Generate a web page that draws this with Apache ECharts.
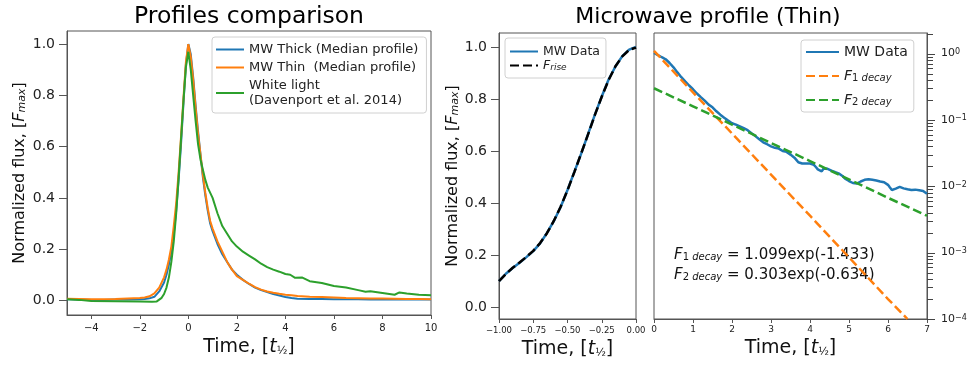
<!DOCTYPE html>
<html><head><meta charset="utf-8">
<script src="https://cdn.jsdelivr.net/npm/echarts@6/dist/echarts.min.js"></script>
<style>html,body{margin:0;padding:0;background:#fff}#c{width:970px;height:365px}</style>
</head><body><div id="c"></div>
<script>
// ---------- data ----------
const profTime = [-5,-4.5,-4,-3.5,-3,-2.5,-2,-1.8,-1.6,-1.4,-1.2,-1.0,-0.9,-0.8,-0.7,-0.6,-0.5,-0.4,-0.3,-0.2,-0.1,0,0.1,0.2,0.3,0.4,0.5,0.6,0.7,0.8,0.9,1.0,1.2,1.4,1.6,1.8,2.0,2.25,2.5,2.75,3.0,3.25,3.5,3.75,4.0,4.25,4.5,5,5.5,6,6.5,7,7.5,8,8.5,9,9.5,10];
const mwThick = [0.004,0.003,0.002,0.002,0.003,0.003,0.004,0.005,0.008,0.014,0.035,0.07,0.10,0.14,0.19,0.26,0.35,0.47,0.61,0.77,0.92,1.0,0.96,0.87,0.76,0.66,0.57,0.48,0.41,0.35,0.30,0.27,0.22,0.18,0.15,0.12,0.10,0.08,0.064,0.05,0.04,0.033,0.025,0.019,0.013,0.009,0.006,0.005,0.005,0.004,0.004,0.004,0.003,0.003,0.003,0.003,0.003,0.003];
const mwThin = [0.006,0.005,0.004,0.004,0.005,0.007,0.009,0.011,0.016,0.027,0.05,0.09,0.12,0.16,0.21,0.29,0.38,0.50,0.64,0.79,0.93,1.0,0.95,0.86,0.75,0.65,0.57,0.49,0.42,0.36,0.31,0.28,0.23,0.19,0.15,0.12,0.095,0.08,0.065,0.052,0.042,0.035,0.03,0.026,0.022,0.02,0.017,0.014,0.013,0.011,0.009,0.008,0.007,0.007,0.006,0.005,0.005,0.004];
const wlTime = [-5,-4.5,-4,-3,-2,-1.5,-1.3,-1.1,-1.0,-0.9,-0.8,-0.7,-0.6,-0.5,-0.4,-0.3,-0.2,-0.1,0,0.1,0.2,0.3,0.4,0.5,0.6,0.7,0.8,1.0,1.2,1.4,1.6,1.8,2.0,2.25,2.5,2.75,3.0,3.25,3.5,3.75,4.0,4.2,4.4,4.7,5.0,5.5,6.0,6.5,7.0,7.3,7.5,8.0,8.5,8.7,9.0,9.5,10];
const whiteLight = [0.004,0.002,-0.002,-0.003,-0.004,-0.005,-0.004,0.01,0.025,0.05,0.09,0.15,0.23,0.34,0.48,0.63,0.78,0.91,0.97,0.90,0.80,0.70,0.61,0.55,0.51,0.47,0.44,0.40,0.34,0.29,0.26,0.23,0.21,0.19,0.175,0.16,0.143,0.13,0.12,0.112,0.103,0.10,0.088,0.089,0.075,0.068,0.056,0.05,0.04,0.034,0.036,0.029,0.022,0.031,0.027,0.022,0.02];

const riseTime = [-1,-0.95,-0.9,-0.85,-0.8,-0.75,-0.7,-0.65,-0.6,-0.55,-0.5,-0.45,-0.4,-0.35,-0.3,-0.25,-0.2,-0.15,-0.1,-0.05,0];
const riseData = [0.10,0.128,0.15,0.17,0.192,0.215,0.245,0.285,0.33,0.385,0.45,0.52,0.59,0.665,0.74,0.81,0.875,0.925,0.965,0.99,1.0];
const riseFit  = [0.10,0.127,0.151,0.171,0.193,0.216,0.246,0.284,0.331,0.386,0.449,0.519,0.591,0.664,0.739,0.809,0.873,0.926,0.964,0.989,0.998];

const decayTime = [0,0.1,0.2,0.3,0.4,0.5,0.6,0.7,0.8,0.9,1.0,1.1,1.2,1.3,1.4,1.5,1.6,1.7,1.8,1.9,2.0,2.1,2.2,2.3,2.4,
  2.5,2.55,2.6,2.65,2.7,2.75,2.8,2.85,2.9,2.95,3.0,3.05,3.1,3.15,3.2,3.25,3.3,3.35,3.4,3.45,3.5,3.55,3.6,3.65,3.7,3.75,3.8,3.85,3.9,3.95,
  4.0,4.05,4.1,4.15,4.2,4.25,4.3,4.35,4.4,4.45,4.5,4.55,4.6,4.65,4.7,4.75,4.8,4.85,4.9,4.95,5.0,5.05,5.1,5.15,5.2,5.25,5.3,5.35,5.4,5.45,
  5.5,5.55,5.6,5.65,5.7,5.75,5.8,5.85,5.9,5.95,6.0,6.05,6.1,6.15,6.2,6.25,6.3,6.35,6.4,6.45,6.5,6.55,6.6,6.65,6.7,6.75,6.8,6.85,6.9,6.95,7.0];
const decayData = [1.02,0.95,0.88,0.82,0.72,0.62,0.52,0.44,0.38,0.33,0.29,0.25,0.22,0.195,0.17,0.155,0.135,0.12,0.108,0.098,0.089,0.085,0.08,0.075,0.07,
  0.063,0.061,0.057,0.055,0.051,0.049,0.046,0.045,0.043,0.041,0.040,0.041,0.038,0.039,0.037,0.036,0.034,0.035,0.033,0.032,0.030,0.029,0.027,0.025,0.023,0.0235,0.022,0.0225,0.022,0.0215,
  0.022,0.0212,0.021,0.0195,0.018,0.0172,0.0168,0.0185,0.019,0.0183,0.018,0.0172,0.0168,0.0163,0.016,0.0155,0.015,0.014,0.013,0.0125,0.012,0.0115,0.0112,0.011,0.011,0.0115,0.0118,0.0121,0.0125,0.0122,
  0.0128,0.0124,0.0125,0.0121,0.0122,0.0119,0.0118,0.0113,0.0115,0.011,0.0105,0.0096,0.0088,0.0085,0.0092,0.0096,0.0098,0.0095,0.0093,0.0091,0.009,0.0087,0.0088,0.0086,0.0089,0.0086,0.0087,0.0084,0.0085,0.0081,0.0077];
const f1Time = [0,1,2,3,4,5,6,6.5];
const f1Decay = [1.10,0.26,0.0625,0.015,0.0036,0.00085,0.0002,0.0001];
const f2Time = [0,1,2,3,4,5,6,7];
const f2Decay = [0.30,0.16,0.085,0.045,0.024,0.0127,0.0067,0.0036];

const leftXTicks = [-4,-2,0,2,4,6,8,10];
const fluxTicks = [0,0.2,0.4,0.6,0.8,1.0];
const riseXTicks = [-1,-0.75,-0.5,-0.25,0];
const decayXTicks = [0,1,2,3,4,5,6,7];
const logMajor = [1e-4,1e-3,1e-2,1e-1,1];
const logMinor = [2e-4,3e-4,4e-4,5e-4,6e-4,7e-4,8e-4,9e-4,2e-3,3e-3,4e-3,5e-3,6e-3,7e-3,8e-3,9e-3,2e-2,3e-2,4e-2,5e-2,6e-2,7e-2,8e-2,9e-2,0.2,0.3,0.4,0.5,0.6,0.7,0.8,0.9,2];
const logMin = 1e-4, logMax = 2.04;

const annot1 = ['1 ', 'decay', ' = 1.099exp(-1.433)'];
const annot2 = ['2 ', 'decay', ' = 0.303exp(-0.634)'];

// ---------- helpers ----------
const FF = 'DejaVu Sans';
const BLUE = '#1f77b4', ORANGE = '#ff7f0e', GREEN = '#2ca02c';
const SPINE = '#555';
const zip = (xs, ys) => xs.map((x, i) => [x, ys[i]]);
const minus = s => String(s).replace('-', '\u2212');

const timeName = '{a|Time, [}{t|t}{f|\u00bd}{a|]}';
const timeNameStyle = {fontFamily: FF, color: '#111', fontSize: 19,
  rich: {a: {fontFamily: FF, fontSize: 19, color: '#111'},
         t: {fontFamily: FF, fontSize: 19, fontStyle: 'italic', color: '#111'},
         f: {fontFamily: FF, fontSize: 11, color: '#111', verticalAlign: 'bottom'}}};
const fluxName = '{a|Normalized flux, [}{i|F}{s|max}{a|]}';
const fluxNameStyle = {fontFamily: FF, color: '#111', fontSize: 16,
  rich: {a: {fontFamily: FF, fontSize: 16, color: '#111'},
         i: {fontFamily: FF, fontSize: 16, fontStyle: 'italic', color: '#111'},
         s: {fontFamily: FF, fontSize: 11, fontStyle: 'italic', color: '#111', verticalAlign: 'bottom'}}};

function xAx(grid, min, max, ticks, fs, fmt, gap, margin) {
  return {gridIndex: grid, type: 'value', min: min, max: max,
    axisLine: {show: true, onZero: false, lineStyle: {color: SPINE, width: 1}},
    splitLine: {show: false},
    axisTick: {show: true, customValues: ticks, length: 4, lineStyle: {color: SPINE}},
    axisLabel: {customValues: ticks, fontFamily: FF, fontSize: fs, color: '#222', margin: margin, formatter: fmt},
    name: timeName, nameLocation: 'middle', nameGap: gap, nameTextStyle: timeNameStyle};
}
function yAx(grid, min, max, gap) {
  return {gridIndex: grid, type: 'value', min: min, max: max,
    axisLine: {show: true, onZero: false, lineStyle: {color: SPINE, width: 1}},
    splitLine: {show: false},
    axisTick: {show: true, customValues: fluxTicks, length: 8, lineStyle: {color: SPINE}},
    axisLabel: {customValues: fluxTicks, fontFamily: FF, fontSize: 14, color: '#222', margin: 12, formatter: v => v.toFixed(1)},
    name: fluxName, nameLocation: 'middle', nameGap: gap, nameTextStyle: fluxNameStyle};
}
function legendBox(extra) {
  return Object.assign({orient: 'vertical', align: 'left', backgroundColor: 'rgba(255,255,255,0.85)',
    borderColor: '#d0d0d0', borderWidth: 1, borderRadius: 3, selectedMode: false,
    itemStyle: {opacity: 0}}, extra);
}
function lineSeries(name, xi, yi, data, color, width, dashed) {
  return {name: name, type: 'line', xAxisIndex: xi, yAxisIndex: yi, data: data,
    symbol: 'none', showSymbol: false, animation: false,
    lineStyle: {color: color, width: width, type: dashed ? [9, 4] : 'solid'},
    itemStyle: {color: color}};
}

const decayRich = {i: {fontFamily: FF, fontSize: 14, fontStyle: 'italic', color: '#222'},
  s: {fontFamily: FF, fontSize: 10, color: '#222', verticalAlign: 'bottom'},
  si: {fontFamily: FF, fontSize: 10, fontStyle: 'italic', color: '#222', verticalAlign: 'bottom'}};

const annRich = {i: {fontFamily: FF, fontSize: 15, fontStyle: 'italic', fill: '#111', color: '#111'},
  s: {fontFamily: FF, fontSize: 10, fill: '#111', color: '#111', verticalAlign: 'bottom'},
  si: {fontFamily: FF, fontSize: 10, fontStyle: 'italic', fill: '#111', color: '#111', verticalAlign: 'bottom'},
  n: {fontFamily: FF, fontSize: 15, fill: '#111', color: '#111'}};

// tick marks of the right log axis, drawn by a custom series through the log scale
const tickData = logMajor.map(v => [7, v, 8]).concat(logMinor.map(v => [7, v, 6]));

const option = {
  backgroundColor: '#fff',
  animation: false,
  graphic: [
    {type: 'text', x: 249, y: 17, style: {text: 'Profiles comparison', font: '23.5px "DejaVu Sans"', fill: '#000', align: 'center', verticalAlign: 'middle', textAlign: 'center', textVerticalAlign: 'middle'}},
    {type: 'text', x: 708, y: 17, style: {text: 'Microwave profile (Thin)', font: '22px "DejaVu Sans"', fill: '#000', align: 'center', verticalAlign: 'middle', textAlign: 'center', textVerticalAlign: 'middle'}},
    {type: 'text', x: 674, y: 255, style: {text: '{i|F}{s|' + annot1[0] + '}{si|' + annot1[1] + '}{n|' + annot1[2] + '}', rich: annRich, verticalAlign: 'middle', textVerticalAlign: 'middle'}},
    {type: 'text', x: 674, y: 275, style: {text: '{i|F}{s|' + annot2[0] + '}{si|' + annot2[1] + '}{n|' + annot2[2] + '}', rich: annRich, verticalAlign: 'middle', textVerticalAlign: 'middle'}}
  ],
  grid: [
    {left: 67, top: 31, width: 364, height: 284, show: true, borderColor: SPINE, borderWidth: 1},
    {left: 499, top: 33, width: 137, height: 286, show: true, borderColor: SPINE, borderWidth: 1},
    {left: 654, top: 33, width: 273, height: 286, show: true, borderColor: SPINE, borderWidth: 1}
  ],
  xAxis: [
    xAx(0, -5, 10, leftXTicks, 10, v => minus(v), 21, 8),
    xAx(1, -1, 0, riseXTicks, 8.5, v => minus(v.toFixed(2)), 17, 7),
    xAx(2, 0, 7, decayXTicks, 9, v => String(v), 17, 6)
  ],
  yAxis: [
    yAx(0, -0.057, 1.051, 39),
    yAx(1, -0.046, 1.054, 34),
    {gridIndex: 2, type: 'log', min: logMin, max: logMax, position: 'right',
      axisLine: {show: true, onZero: false, lineStyle: {color: SPINE}}, splitLine: {show: false},
      axisTick: {show: false},
      axisLabel: {customValues: logMajor, fontFamily: FF, fontSize: 11, color: '#222', margin: 14,
        formatter: v => { const e = Math.round(Math.log10(v)); return '10{s|' + (e < 0 ? '\u2212' + (-e) : e) + '}'; },
        rich: {s: {fontFamily: FF, fontSize: 8, color: '#222', verticalAlign: 'top'}}}}
  ],
  legend: [
    legendBox({left: 212, top: 37, padding: [5, 8, 5, 3], itemWidth: 28, itemHeight: 14, itemGap: 3,
      data: ['MW Thick (Median profile)', 'MW Thin  (Median profile)', 'White light\n(Davenport et al. 2014)'],
      textStyle: {fontFamily: FF, fontSize: 13, color: '#222', lineHeight: 15}}),
    legendBox({left: 505, top: 38, padding: [7, 6, 6, 4], itemWidth: 28, itemHeight: 14, itemGap: 1,
      data: ['MW Data', 'F_rise'],
      formatter: n => n === 'F_rise' ? '{i|F}{s|rise}' : n,
      textStyle: {fontFamily: FF, fontSize: 12.5, color: '#222',
        rich: {i: {fontFamily: FF, fontSize: 12.5, fontStyle: 'italic', color: '#222'},
               s: {fontFamily: FF, fontSize: 9, fontStyle: 'italic', color: '#222', verticalAlign: 'bottom'}}}}),
    legendBox({left: 801, top: 40, padding: [5, 6, 5, 4], itemWidth: 33, itemHeight: 14, itemGap: 10,
      data: ['MW Data ', 'F1 decay', 'F2 decay'],
      formatter: n => n === 'F1 decay' ? '{i|F}{s|1 }{si|decay}' : (n === 'F2 decay' ? '{i|F}{s|2 }{si|decay}' : 'MW Data'),
      textStyle: {fontFamily: FF, fontSize: 14, color: '#222', rich: decayRich}})
  ],
  series: [
    lineSeries('MW Thick (Median profile)', 0, 0, zip(profTime, mwThick), BLUE, 2, false),
    lineSeries('MW Thin  (Median profile)', 0, 0, zip(profTime, mwThin), ORANGE, 2, false),
    lineSeries('White light\n(Davenport et al. 2014)', 0, 0, zip(wlTime, whiteLight), GREEN, 2, false),
    lineSeries('MW Data', 1, 1, zip(riseTime, riseData), BLUE, 2.5, false),
    lineSeries('F_rise', 1, 1, zip(riseTime, riseFit), '#000', 2.5, true),
    lineSeries('MW Data ', 2, 2, zip(decayTime, decayData), BLUE, 2.5, false),
    lineSeries('F1 decay', 2, 2, zip(f1Time, f1Decay), ORANGE, 2.5, true),
    lineSeries('F2 decay', 2, 2, zip(f2Time, f2Decay), GREEN, 2.5, true),
    {type: 'custom', name: 'logTicks', xAxisIndex: 2, yAxisIndex: 2, coordinateSystem: 'cartesian2d',
      clip: false, silent: true, z: 20, animation: false, data: tickData,
      encode: {x: 0, y: 1},
      renderItem: function (params, api) {
        const p = api.coord([api.value(0), api.value(1)]);
        const len = api.value(2);
        const y = Math.round(p[1]) + 0.5;
        return {type: 'line', shape: {x1: p[0], y1: y, x2: p[0] + len, y2: y},
          style: {stroke: '#444', lineWidth: 1}};
      }}
  ]
};
const chart = echarts.init(document.getElementById('c'), null, {renderer: 'canvas'});
chart.setOption(option);
</script>
</body></html>
